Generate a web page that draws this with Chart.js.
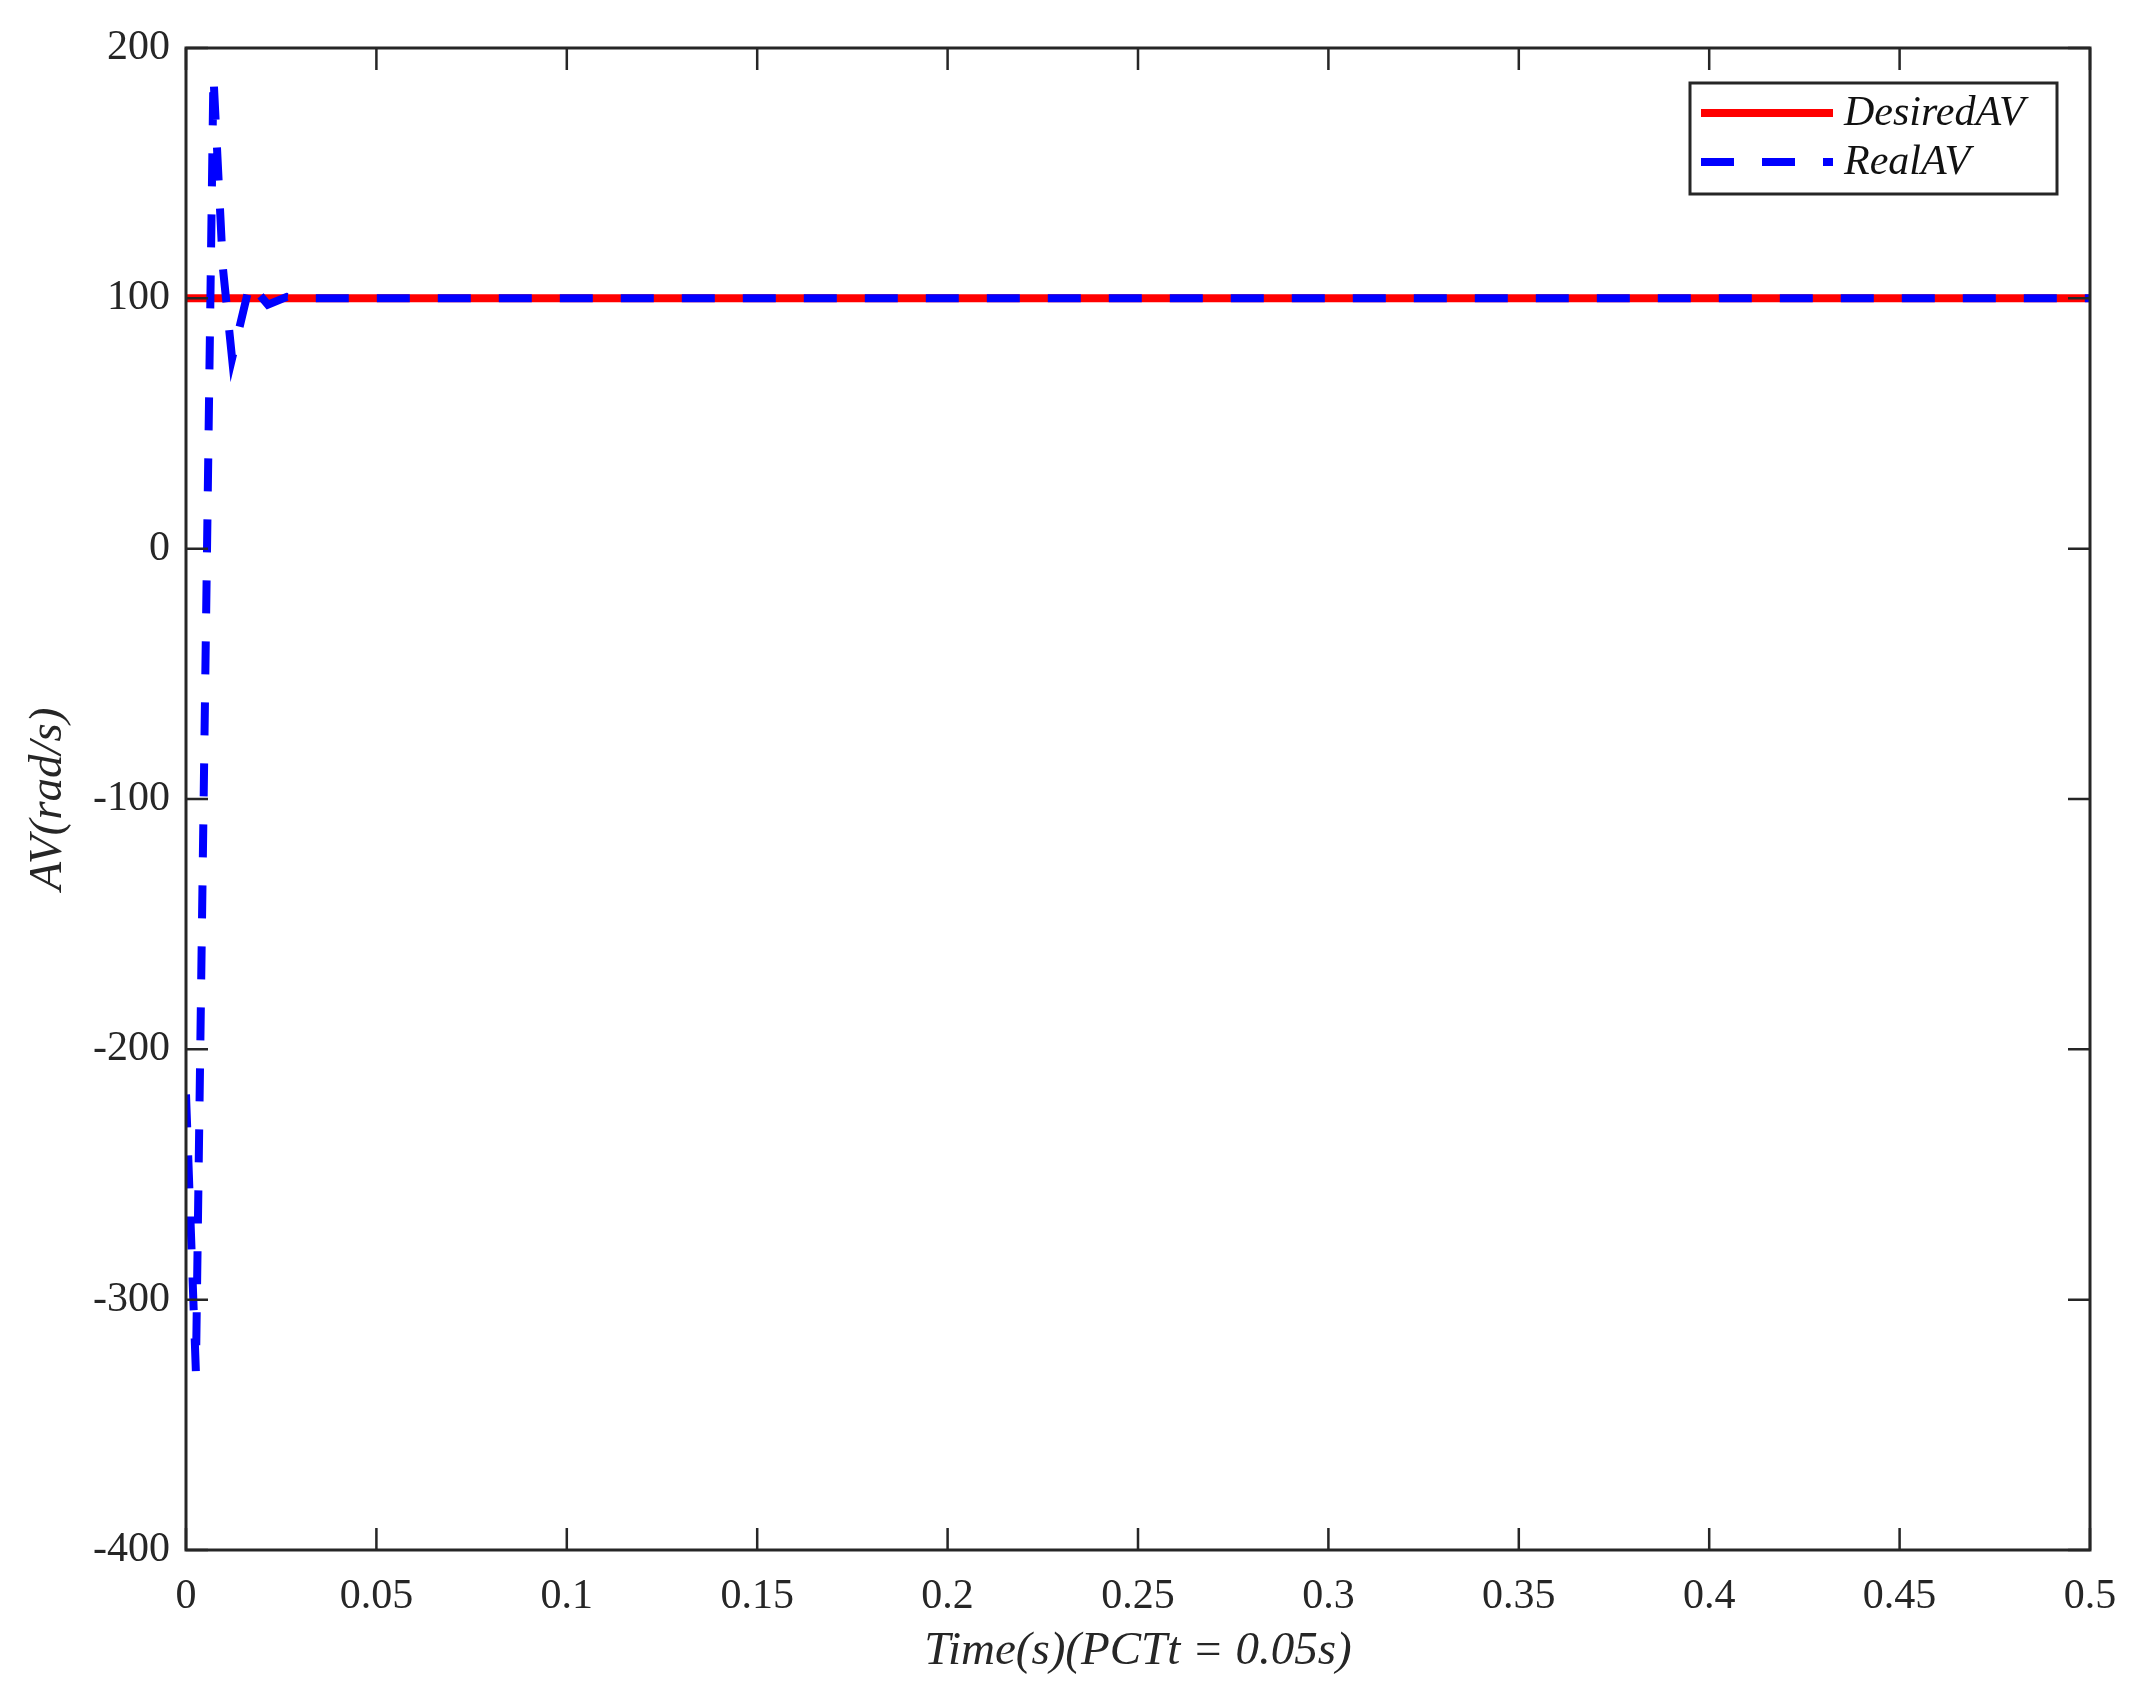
<!DOCTYPE html>
<html>
<head>
<meta charset="utf-8">
<script src="https://cdn.jsdelivr.net/npm/chart.js@4.4.1/dist/chart.umd.min.js"></script>
<style>
  html, body { margin: 0; padding: 0; background: #fff; }
  #wrap { width: 2143px; height: 1696px; }
</style>
</head>
<body>
<div id="wrap"><canvas id="avChart" width="2143" height="1696"></canvas></div>
<script>
// ===== data =====
const desiredT = [0, 0.5];
const desiredV = [100, 100];

const realT = [0, 0.0026, 0.0072, 0.0097, 0.0121, 0.0168, 0.0215, 0.0265, 0.0304, 0.5];
const realV = [-218, -329, 189, 112, 76, 106, 97.5, 100.6, 100, 100];

const xTicks = [0, 0.05, 0.1, 0.15, 0.2, 0.25, 0.3, 0.35, 0.4, 0.45, 0.5];
const xTickLabels = ['0', '0.05', '0.1', '0.15', '0.2', '0.25', '0.3', '0.35', '0.4', '0.45', '0.5'];
const yTicks = [-400, -300, -200, -100, 0, 100, 200];
const yTickLabels = ['-400', '-300', '-200', '-100', '0', '100', '200'];

const seriesNames = ['DesiredAV', 'RealAV'];

const AXIS = '#262626';
const SERIF = '"Liberation Serif", "DejaVu Serif", serif';

// box round the plot + inward ticks on all four sides
const framePlugin = {
  id: 'frame',
  afterDatasetsDraw(chart) {
    const { ctx, chartArea: a, scales } = chart;
    const len = 22;
    ctx.save();
    ctx.strokeStyle = AXIS;
    ctx.lineWidth = 3;
    ctx.strokeRect(a.left, a.top, a.right - a.left, a.bottom - a.top);
    ctx.lineWidth = 2.5;
    ctx.beginPath();
    xTicks.forEach(v => {
      const x = scales.x.getPixelForValue(v);
      ctx.moveTo(x, a.bottom); ctx.lineTo(x, a.bottom - len);
      ctx.moveTo(x, a.top); ctx.lineTo(x, a.top + len);
    });
    yTicks.forEach(v => {
      const y = scales.y.getPixelForValue(v);
      ctx.moveTo(a.left, y); ctx.lineTo(a.left + len, y);
      ctx.moveTo(a.right, y); ctx.lineTo(a.right - len, y);
    });
    ctx.stroke();
    ctx.restore();
  }
};

// legend box in the top right corner
const boxLegend = {
  id: 'boxLegend',
  afterDraw(chart) {
    const { ctx, chartArea: a } = chart;
    const w = 367, h = 111;
    const x0 = a.right - 33 - w, y0 = a.top + 35;
    ctx.save();
    ctx.fillStyle = '#fff';
    ctx.fillRect(x0, y0, w, h);
    ctx.strokeStyle = AXIS;
    ctx.lineWidth = 3;
    ctx.strokeRect(x0, y0, w, h);
    const rows = [chart.data.datasets[0], chart.data.datasets[1]];
    rows.forEach((ds, i) => {
      const y = y0 + 30 + i * 49;
      ctx.strokeStyle = ds.borderColor;
      ctx.lineWidth = ds.borderWidth;
      ctx.lineCap = 'butt';
      ctx.setLineDash(ds.borderDash || []);
      ctx.beginPath();
      ctx.moveTo(x0 + 11, y);
      ctx.lineTo(x0 + 143, y);
      ctx.stroke();
      ctx.setLineDash([]);
      ctx.fillStyle = '#111';
      ctx.font = 'italic 42px ' + SERIF;
      ctx.textBaseline = 'middle';
      ctx.fillText(ds.label, x0 + 154, y + 1);
    });
    ctx.restore();
  }
};

const toXY = (ts, vs) => ts.map((t, i) => ({ x: t, y: vs[i] }));

new Chart(document.getElementById('avChart'), {
  type: 'line',
  data: {
    datasets: [{
      label: seriesNames[0],
      data: toXY(desiredT, desiredV),
      borderColor: '#ff0000',
      borderWidth: 8,
      pointRadius: 0,
      tension: 0,
      order: 1
    }, {
      label: seriesNames[1],
      data: toXY(realT, realV),
      borderColor: '#0000ff',
      borderWidth: 8,
      borderDash: [33, 28],
      borderCapStyle: 'butt',
      pointRadius: 0,
      tension: 0,
      order: 0
    }]
  },
  options: {
    responsive: false,
    animation: false,
    devicePixelRatio: 1,
    layout: { padding: { left: 0, right: 53, top: 48, bottom: 0 } },
    plugins: {
      legend: { display: false },
      tooltip: { enabled: false }
    },
    scales: {
      x: {
        type: 'linear',
        min: 0, max: 0.5,
        afterBuildTicks: s => { s.ticks = xTicks.map(v => ({ value: v })); },
        afterFit: s => { s.height = 146; },
        grid: { display: false, drawTicks: false },
        border: { display: false },
        ticks: {
          padding: 22,
          color: AXIS,
          font: { family: SERIF, size: 42 },
          maxRotation: 0,
          callback: (v, i) => xTickLabels[i]
        },
        title: {
          display: true,
          text: 'Time(s)(PCTt = 0.05s)',
          color: AXIS,
          font: { family: SERIF, size: 47, style: 'italic' },
          padding: { top: 2, bottom: 16 }
        }
      },
      y: {
        type: 'linear',
        min: -400, max: 200,
        afterBuildTicks: s => { s.ticks = yTicks.map(v => ({ value: v })); },
        afterFit: s => { s.width = 186; },
        grid: { display: false, drawTicks: false },
        border: { display: false },
        ticks: {
          padding: 16,
          color: AXIS,
          font: { family: SERIF, size: 42 },
          callback: (v, i) => yTickLabels[i]
        },
        title: {
          display: true,
          text: 'AV(rad/s)',
          color: AXIS,
          font: { family: SERIF, size: 47, style: 'italic' },
          padding: { top: 20, bottom: 0 }
        }
      }
    }
  },
  plugins: [framePlugin, boxLegend]
});
</script>
</body>
</html>
